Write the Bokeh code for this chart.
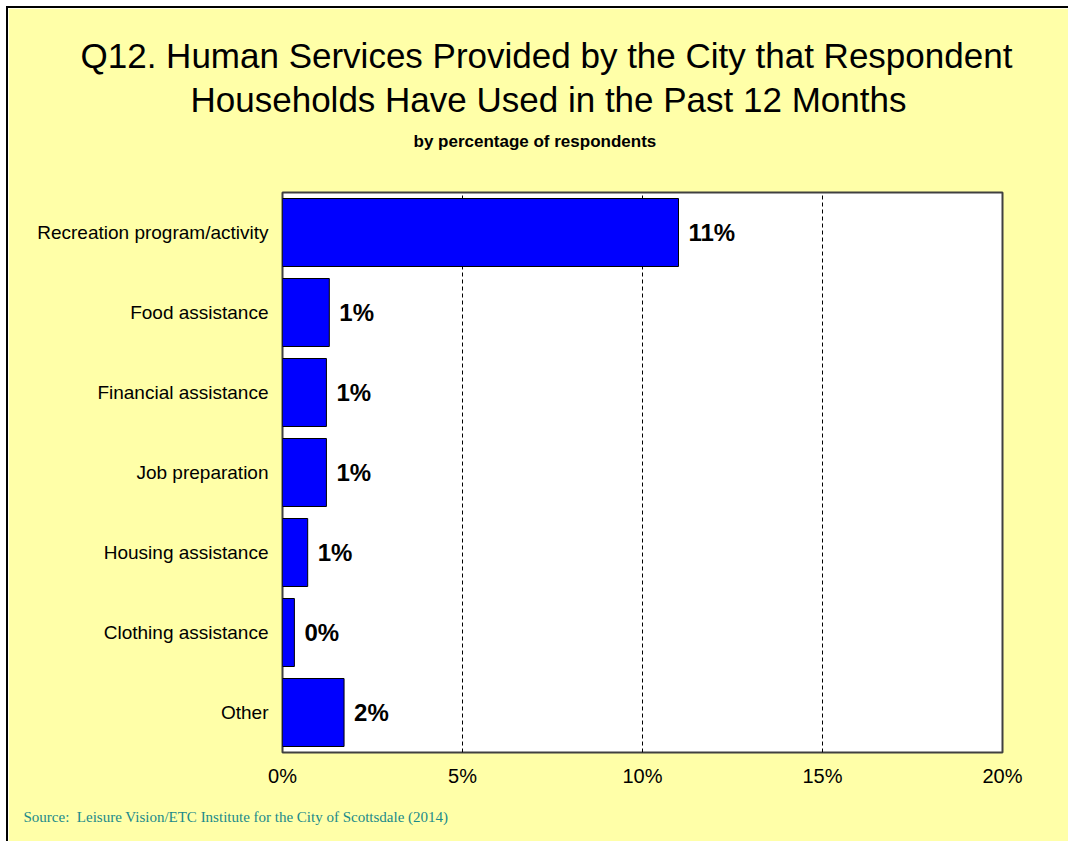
from bokeh.plotting import figure
from bokeh.models import (FactorRange, Range1d, FixedTicker, PrintfTickFormatter,
                          Title, ColumnDataSource)
from bokeh.core.properties import value
from bokeh.embed import file_html
from bokeh.resources import INLINE

categories = ["Recreation program/activity", "Food assistance", "Financial assistance",
              "Job preparation", "Housing assistance", "Clothing assistance", "Other"]
values = [11.0, 1.3, 1.22, 1.22, 0.7, 0.33, 1.71]
value_labels = ["11%", "1%", "1%", "1%", "1%", "0%", "2%"]
x_ticks = [0, 5, 10, 15, 20]

W, H = 1062, 835
BG = "#FFFFA8"
FRAME_LEFT = 282  # page pixels

src = ColumnDataSource(dict(cat=categories, val=values, lab=value_labels))

p = figure(width=W, height=H, output_backend="svg", toolbar_location=None,
           y_range=FactorRange(*reversed(categories)), x_range=Range1d(0, 20),
           min_border_left=274, min_border_right=68, min_border_top=184,
           min_border_bottom=91)
p.border_fill_color = BG
p.background_fill_color = "white"
p.outline_line_color = "#404040"
p.outline_line_width = 2
p.styles = {"margin-left": "6px", "margin-top": "6px",
            "border-left": "2px solid black", "border-top": "2px solid black"}

p.hbar(y="cat", right="val", left=0, height=0.85, source=src,
       fill_color="#0000FF", line_color="black", line_width=1)
p.text(x="val", y="cat", text="lab", source=src, x_offset=10,
       text_baseline="middle", text_align="left",
       text_font=value("Liberation Sans"), text_font_style="bold",
       text_font_size="24px", text_color="black")

# axes
p.xaxis.ticker = FixedTicker(ticks=x_ticks)
p.xaxis.formatter = PrintfTickFormatter(format="%d%%")
p.xaxis.axis_line_color = None
p.xaxis.major_tick_line_color = None
p.xaxis.minor_tick_line_color = None
p.xaxis.major_label_text_font = "Liberation Sans"
p.xaxis.major_label_text_font_size = "20px"
p.xaxis.major_label_text_color = "black"
p.xaxis.major_label_standoff = 6

p.yaxis.axis_line_color = None
p.yaxis.major_tick_line_color = None
p.yaxis.major_label_text_font = "Liberation Sans"
p.yaxis.major_label_text_font_size = "19px"
p.yaxis.major_label_text_color = "black"
p.yaxis.major_label_standoff = 8

p.ygrid.grid_line_color = None
p.xgrid.ticker = FixedTicker(ticks=[5, 10, 15])
p.xgrid.grid_line_color = "black"
p.xgrid.grid_line_dash = "4 3"
p.xgrid.grid_line_width = 1

def make_title(text, left, size, bold=False, font="Liberation Sans", color="black", standoff=10):
    return Title(text=text, align="left", offset=left - FRAME_LEFT, standoff=standoff,
                 text_font=font, text_font_size=size,
                 text_font_style="bold" if bold else "normal", text_color=color)

# first added sits nearest to the frame; a blank title acts as a spacer
p.add_layout(Title(text=" ", text_font_size="1px", standoff=30, text_color=BG), "above")
p.add_layout(make_title("by percentage of respondents", 413, "17px", bold=True, standoff=18), "above")
p.add_layout(make_title("Households Have Used in the Past 12 Months", 190, "35px", standoff=3), "above")
p.add_layout(make_title("Q12. Human Services Provided by the City that Respondent", 80, "35px", standoff=4), "above")
p.add_layout(make_title("Source:\u00a0 Leisure Vision/ETC Institute for the City of Scottsdale (2014)", 23,
                        "15px", font="Liberation Serif", color="#1A8A8A", standoff=34), "below")

open("out.html", "w").write(file_html(p, INLINE))
